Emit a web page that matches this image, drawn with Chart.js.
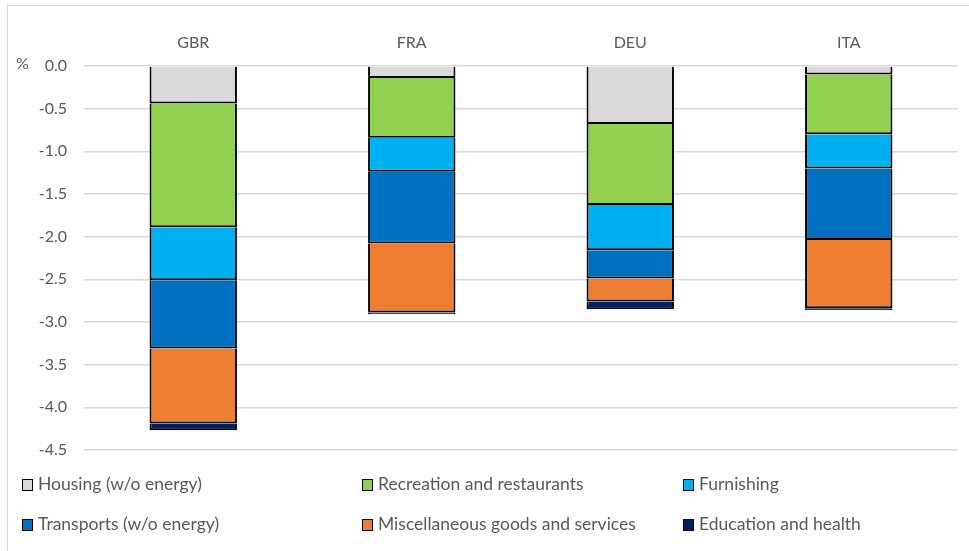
<!DOCTYPE html>
<html>
<head>
<meta charset="utf-8">
<script src="https://cdn.jsdelivr.net/npm/chart.js@4"></script>
<style>
  body { margin: 0; background: #fff; font-family: Lato, "Open Sans", sans-serif; }
  #wrap { position: relative; width: 969px; height: 551px; overflow: hidden; }
  #frame { position: absolute; left: 7px; top: 5px; right: -2px; bottom: -2px;
           border-left: 1px solid #d9d9d9; border-top: 1px solid #d9d9d9; }
  #pct { position: absolute; left: 16px; top: 53px; font-size: 16px; color: #595959; }
  .lg { position: absolute; font-size: 17.5px; color: #595959; white-space: nowrap; }
  .lg i { display: inline-block; width: 9px; height: 10px; border: 1px solid #000;
          margin-right: 5px; vertical-align: -1px; }
</style>
</head>
<body>
<div id="wrap">
  <div id="frame"></div>
  <canvas id="chart" width="969" height="551"></canvas>
  <span id="pct">%</span>
  <div id="legend"></div>
</div>
<script>
// ── Data ────────────────────────────────────────────────────
const countries  = ['GBR', 'FRA', 'DEU', 'ITA'];
const housing    = [-0.44, -0.14, -0.68, -0.10];
const recreation = [-1.45, -0.70, -0.95, -0.70];
const furnishing = [-0.62, -0.40, -0.53, -0.40];
const transports = [-0.80, -0.84, -0.33, -0.84];
const misc       = [-0.88, -0.81, -0.27, -0.80];
const education  = [-0.08, -0.02, -0.09, -0.02];
const yTicks     = [0, -0.5, -1, -1.5, -2, -2.5, -3, -3.5, -4, -4.5];

const series = [
    { label: 'Housing (w/o energy)',             data: housing,    color: '#d9d9d9' },
    { label: 'Recreation and restaurants',       data: recreation, color: '#92d050' },
    { label: 'Furnishing',                       data: furnishing, color: '#00b0f0' },
    { label: 'Transports (w/o energy)',          data: transports, color: '#0070c0' },
    { label: 'Miscellaneous goods and services', data: misc,       color: '#ed7d31' },
    { label: 'Education and health',             data: education,  color: '#002060' }
];

const FONT = { family: 'Lato, "Open Sans", sans-serif', size: 16 };

new Chart(document.getElementById('chart'), {
    type: 'bar',
    data: {
        labels: countries,
        datasets: series.map(s => ({
            label:           s.label,
            data:            s.data,
            backgroundColor: s.color,
            borderColor:     '#000',
            borderWidth:     2,
            categoryPercentage: 1,
            barPercentage:   0.4
        }))
    },
    options: {
        responsive: false,
        animation: false,
        layout: { padding: { left: 0, right: 11, top: 0, bottom: 101 } },
        plugins: { legend: { display: false }, tooltip: { enabled: false } },
        scales: {
            x: {
                position: 'top',
                stacked: true,
                grid: { display: false, drawTicks: false },
                border: { display: false },
                ticks: { color: '#595959', font: FONT, padding: 14 },
                afterFit: s => { s.height = 66; }
            },
            y: {
                stacked: true,
                min: -4.5,
                max: 0,
                afterBuildTicks: s => { s.ticks = yTicks.map(v => ({ value: v })); },
                grid: { color: '#d9d9d9', lineWidth: 1.5, drawTicks: false },
                border: { display: false },
                ticks: {
                    color: '#595959', font: FONT, padding: 17,
                    callback: v => v.toFixed(1)
                },
                afterFit: s => { s.width = 84; }
            }
        }
    }
});

// ── Legend (3 columns x 2 rows) ─────────────────────────────
const legendX = [22, 362, 683];
const legendY = [473, 513];
const legendEl = document.getElementById('legend');
series.forEach((s, i) => {
    const d = document.createElement('div');
    d.className = 'lg';
    d.style.left = legendX[i % 3] + 'px';
    d.style.top  = legendY[Math.floor(i / 3)] + 'px';
    d.innerHTML = `<i style="background:${s.color}"></i>${s.label}`;
    legendEl.appendChild(d);
});
</script>
</body>
</html>
